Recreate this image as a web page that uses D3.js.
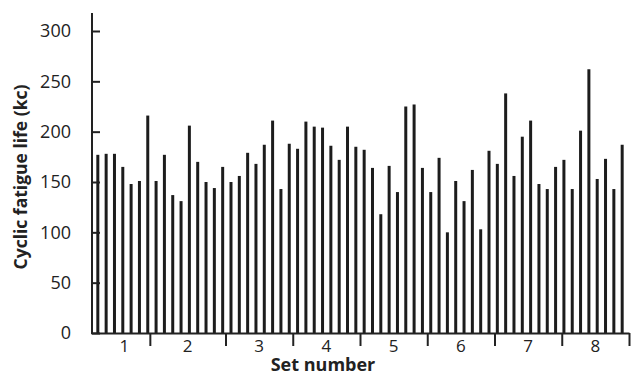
<html>
<head>
<script src="https://d3js.org/d3.v7.min.js"></script>
<style>
  body { margin: 0; background: #fff; }
  svg text { font-family: "Open Sans", sans-serif; fill: #222; }
</style>
</head>
<body>
<div id="chart"></div>
<script>
// fatigue life (kc) of each specimen, in order
var lives = [
  177, 178, 178, 165, 148, 151, 216,
  151, 177, 137, 131, 206, 170, 150, 144, 165,
  150, 156, 179, 168, 187, 211, 143, 188,
  183, 210, 205, 204, 186, 172, 205, 185,
  182, 164, 118, 166, 140, 225, 227, 164,
  140, 174, 100, 151, 131, 162, 103, 181,
  168, 238, 156, 195, 211, 148, 143, 165,
  172, 143, 201, 262, 153, 173, 143, 187
];
var setNames = ["1", "2", "3", "4", "5", "6", "7", "8"];
var setSizes = [7, 9, 8, 8, 8, 8, 8, 8];
var yTicks = [0, 50, 100, 150, 200, 250, 300];

var W = 633, H = 377;
var x0 = 91, x1 = 629, base = 333;

var svg = d3.select("#chart").append("svg")
    .attr("width", W).attr("height", H);

var x = d3.scaleBand()
    .domain(d3.range(lives.length))
    .range([x0, x1])
    .padding(0.64);

var xs = d3.scaleLinear().domain([0, lives.length]).range([x0, x1]);

var y = d3.scaleLinear().domain([0, 300]).range([base, 31]);

// bars
svg.selectAll("rect.bar")
    .data(lives)
    .enter().append("rect")
    .attr("class", "bar")
    .attr("x", (d, i) => x(i))
    .attr("y", d => y(d))
    .attr("width", x.bandwidth())
    .attr("height", d => base - y(d))
    .attr("fill", "#1c1c1c");

// y axis
var yAxis = svg.append("g")
    .attr("transform", "translate(" + (x0 + 1) + ",0)")
    .call(d3.axisLeft(y).tickValues(yTicks).tickSizeInner(-8).tickSizeOuter(0).tickPadding(21));
yAxis.select(".domain").remove();
yAxis.selectAll(".tick line").attr("stroke", "#222").attr("stroke-width", 2);
yAxis.selectAll("text").style("font-size", "18px").attr("fill", "#222");
svg.append("line")
    .attr("x1", x0 + 1).attr("x2", x0 + 1)
    .attr("y1", y(318)).attr("y2", base + 1)
    .attr("stroke", "#222").attr("stroke-width", 2);

// x axis with set boundaries
var bounds = [];
var acc = 0;
setSizes.forEach(function (n) { acc += n; bounds.push(acc); });
var starts = [0].concat(bounds.slice(0, -1));

var xAxis = svg.append("g")
    .attr("transform", "translate(0," + base + ")")
    .call(d3.axisBottom(xs).tickValues(bounds).tickSizeInner(13).tickSizeOuter(0).tickFormat(""));
xAxis.select(".domain").attr("stroke", "#222").attr("stroke-width", 2);
xAxis.selectAll(".tick line").attr("stroke", "#222").attr("stroke-width", 2);

svg.selectAll("text.setlab")
    .data(setNames)
    .enter().append("text")
    .attr("class", "setlab")
    .attr("x", (d, i) => (xs(starts[i]) + xs(bounds[i])) / 2 + (i === 0 ? 4 : 0))
    .attr("y", 352)
    .attr("text-anchor", "middle")
    .style("font-size", "17px")
    .text(d => d);

svg.append("text")
    .attr("x", 323)
    .attr("y", 371)
    .attr("text-anchor", "middle")
    .style("font-size", "18px")
    .style("font-weight", "bold")
    .text("Set number");

svg.append("text")
    .attr("transform", "translate(27,177) rotate(-90)")
    .attr("text-anchor", "middle")
    .style("font-size", "17.5px")
    .style("font-weight", "bold")
    .text("Cyclic fatigue life (kc)");
</script>
</body>
</html>
